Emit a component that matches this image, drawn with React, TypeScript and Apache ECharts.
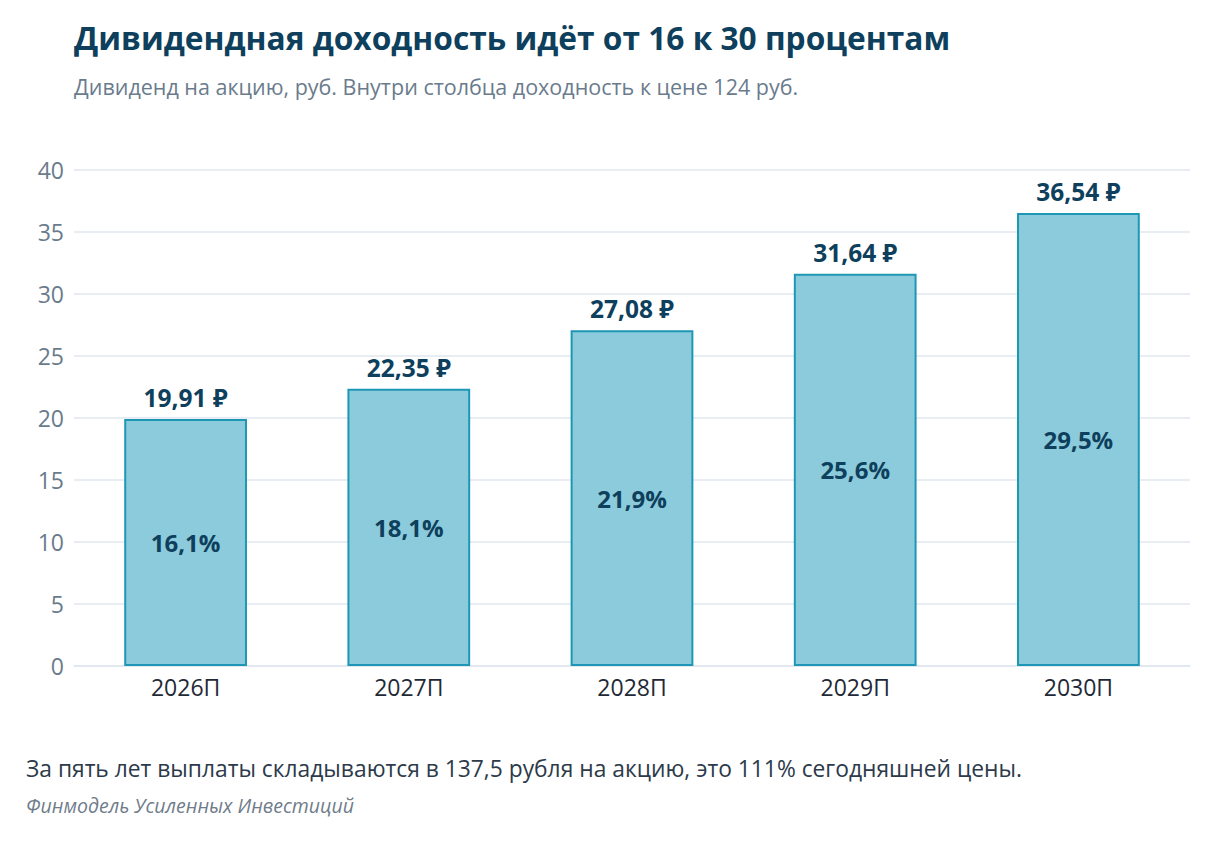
import React, { useEffect, useRef } from "react";
import * as echarts from "echarts";

const categories = ["2026П", "2027П", "2028П", "2029П", "2030П"];
const dividends = [19.91, 22.35, 27.08, 31.64, 36.54];
const yields = ["16,1%", "18,1%", "21,9%", "25,6%", "29,5%"];
const yTicks = [0, 5, 10, 15, 20, 25, 30, 35, 40];

const FONT = "'Open Sans', 'Noto Sans', sans-serif";

export default function App() {
  const ref = useRef<HTMLDivElement>(null);
  useEffect(() => {
    if (!ref.current) return;
    const chart = echarts.init(ref.current, null, { renderer: "svg" });
    const fmtRub = (v: number) => v.toFixed(2).replace(".", ",") + " ₽";
    chart.setOption({
      animation: false,
      backgroundColor: "#ffffff",
      textStyle: { fontFamily: FONT },
      title: [
        {
          text: "Дивидендная доходность идёт от 16 к 30 процентам",
          left: 74,
          top: 21,
          padding: 0,
          textStyle: { fontFamily: FONT, fontSize: 31.7, fontWeight: "bold", color: "#0e3f5c" },
        },
        {
          text: "Дивиденд на акцию, руб. Внутри столбца доходность к цене 124 руб.",
          left: 74,
          top: 75,
          padding: 0,
          textStyle: { fontFamily: FONT, fontSize: 21.5, fontWeight: "normal", color: "#6a7b8c" },
        },
        {
          text: "За пять лет выплаты складываются в 137,5 рубля на акцию, это 111% сегодняшней цены.",
          left: 26,
          top: 757,
          padding: 0,
          textStyle: { fontFamily: FONT, fontSize: 22.8, fontWeight: "normal", color: "#2c3a4a" },
        },
        {
          text: "Финмодель Усиленных Инвестиций",
          left: 26,
          top: 795,
          padding: 0,
          textStyle: { fontFamily: FONT, fontSize: 19.5, fontWeight: "normal", fontStyle: "italic", color: "#6f7c8a" },
        },
      ],
      grid: { left: 74, right: 27, top: 170, bottom: 180, containLabel: false },
      xAxis: {
        type: "category",
        data: categories,
        axisLine: { show: true, lineStyle: { color: "#dfe6ee", width: 1.5 } },
        axisTick: { show: false },
        axisLabel: { fontFamily: FONT, fontSize: 23, color: "#1f2a36", margin: 9 },
      },
      yAxis: {
        type: "value",
        min: yTicks[0],
        max: yTicks[yTicks.length - 1],
        interval: 5,
        axisLine: { show: false },
        axisTick: { show: false },
        splitLine: { lineStyle: { color: "#e1e7ef", width: 1.5 } },
        axisLabel: { fontFamily: FONT, fontSize: 23, color: "#6a7b8c", margin: 10 },
      },
      series: [
        {
          type: "bar",
          data: dividends,
          barWidth: "55%",
          itemStyle: { color: "#8ccbdb", borderColor: "#1e97b5", borderWidth: 2 },
          label: {
            show: true,
            position: "inside",
            fontFamily: FONT,
            fontSize: 24,
            fontWeight: "bold",
            color: "#0e3f5c",
            formatter: (p: any) => yields[p.dataIndex],
          },
          z: 2,
        },
        {
          type: "bar",
          data: dividends,
          barWidth: "55%",
          barGap: "-100%",
          silent: true,
          itemStyle: { color: "transparent" },
          label: {
            show: true,
            position: "top",
            distance: 9,
            fontFamily: FONT,
            fontSize: 24.5,
            fontWeight: "bold",
            color: "#0e3f5c",
            formatter: (p: any) => fmtRub(p.value),
          },
          z: 3,
        },
      ],
    });
    return () => chart.dispose();
  }, []);
  return (
    <div
      ref={ref}
      style={{ position: "fixed", left: 0, top: 0, width: 1217, height: 846 }}
    />
  );
}
